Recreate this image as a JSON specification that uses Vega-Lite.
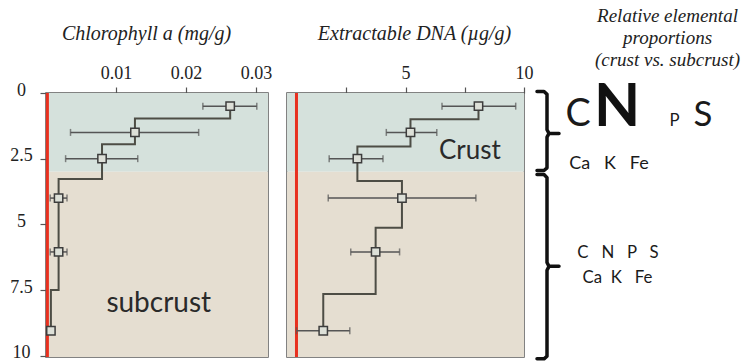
{
  "$schema": "https://vega.github.io/schema/vega-lite/v6.json",
  "background": "white",
  "padding": {"left": 5, "top": 6, "right": 3, "bottom": 1},
  "spacing": 0,
  "config": {
    "view": {"stroke": "#5a5a5a", "strokeWidth": 1.5},
    "axis": {"labelFont": "Liberation Serif", "labelFontSize": 18, "labelColor": "#222", "titleFont": "Liberation Serif", "titleFontStyle": "italic", "titleFontWeight": "normal", "titleFontSize": 20, "titleColor": "#222", "tickColor": "#555", "tickWidth": 1.2, "domain": false, "grid": false}
  },
  "datasets": {
    "zones": [{"zone": "crust", "top": 0, "bottom": 3.0}, {"zone": "subcrust", "top": 3.0, "bottom": 10.05}],
    "red": [{"panel": "chl", "x": 0.0002}, {"panel": "dna", "x": 0.4}],
    "chl": [
      {"depth": 0.5, "value": 0.0263, "lo": 0.0224, "hi": 0.0301},
      {"depth": 1.5, "value": 0.0127, "lo": 0.0035, "hi": 0.0218},
      {"depth": 2.5, "value": 0.008, "lo": 0.0028, "hi": 0.0131},
      {"depth": 4.0, "value": 0.0018, "lo": 0.0006, "hi": 0.003},
      {"depth": 6.05, "value": 0.0018, "lo": 0.0006, "hi": 0.003},
      {"depth": 9.05, "value": 0.0007, "lo": 0.0007, "hi": 0.0007}
    ],
    "chl_path": [
      {"i": 1, "value": 0.0263, "depth": 0.5}, {"i": 2, "value": 0.0263, "depth": 0.97},
      {"i": 3, "value": 0.0127, "depth": 0.97}, {"i": 4, "value": 0.0127, "depth": 1.95},
      {"i": 5, "value": 0.008, "depth": 1.95}, {"i": 6, "value": 0.008, "depth": 3.27},
      {"i": 7, "value": 0.0018, "depth": 3.27}, {"i": 8, "value": 0.0018, "depth": 7.5},
      {"i": 9, "value": 0.0007, "depth": 7.5}, {"i": 10, "value": 0.0007, "depth": 9.05}
    ],
    "dna": [
      {"depth": 0.5, "value": 8.08, "lo": 6.54, "hi": 9.65},
      {"depth": 1.5, "value": 5.21, "lo": 4.19, "hi": 6.32},
      {"depth": 2.5, "value": 2.97, "lo": 1.78, "hi": 4.05},
      {"depth": 4.0, "value": 4.85, "lo": 1.74, "hi": 7.97},
      {"depth": 6.05, "value": 3.74, "lo": 2.69, "hi": 4.75},
      {"depth": 9.05, "value": 1.53, "lo": 0.4, "hi": 2.65}
    ],
    "dna_path": [
      {"i": 1, "value": 8.08, "depth": 0.5}, {"i": 2, "value": 8.08, "depth": 1.0},
      {"i": 3, "value": 5.21, "depth": 1.0}, {"i": 4, "value": 5.21, "depth": 2.04},
      {"i": 5, "value": 2.97, "depth": 2.04}, {"i": 6, "value": 2.97, "depth": 3.35},
      {"i": 7, "value": 4.85, "depth": 3.35}, {"i": 8, "value": 4.85, "depth": 5.13},
      {"i": 9, "value": 3.74, "depth": 5.13}, {"i": 10, "value": 3.74, "depth": 7.65},
      {"i": 11, "value": 1.53, "depth": 7.65}, {"i": 12, "value": 1.53, "depth": 9.05}
    ],
    "zone_labels": [
      {"panel": "chl", "label": "subcrust", "x": 0.0161, "depth": 8.05},
      {"panel": "dna", "label": "Crust", "x": 7.72, "depth": 2.2}
    ],
    "braces": [
      {"brace": "crust", "i": 1, "bx": 3, "depth": -0.06}, {"brace": "crust", "i": 2, "bx": 10, "depth": -0.06},
      {"brace": "crust", "i": 3, "bx": 13, "depth": 0.05}, {"brace": "crust", "i": 4, "bx": 13, "depth": 1.4},
      {"brace": "crust", "i": 5, "bx": 15, "depth": 1.54}, {"brace": "crust", "i": 6, "bx": 25, "depth": 1.54},
      {"brace": "crust", "i": 7, "bx": 15, "depth": 1.54}, {"brace": "crust", "i": 8, "bx": 13, "depth": 1.68},
      {"brace": "crust", "i": 9, "bx": 13, "depth": 2.85}, {"brace": "crust", "i": 10, "bx": 10, "depth": 2.95},
      {"brace": "crust", "i": 11, "bx": 3, "depth": 2.95},
      {"brace": "subcrust", "i": 1, "bx": 3, "depth": 3.1}, {"brace": "subcrust", "i": 2, "bx": 10, "depth": 3.1},
      {"brace": "subcrust", "i": 3, "bx": 13, "depth": 3.22}, {"brace": "subcrust", "i": 4, "bx": 13, "depth": 6.45},
      {"brace": "subcrust", "i": 5, "bx": 15, "depth": 6.6}, {"brace": "subcrust", "i": 6, "bx": 25, "depth": 6.6},
      {"brace": "subcrust", "i": 7, "bx": 15, "depth": 6.6}, {"brace": "subcrust", "i": 8, "bx": 13, "depth": 6.75},
      {"brace": "subcrust", "i": 9, "bx": 13, "depth": 10.02}, {"brace": "subcrust", "i": 10, "bx": 10, "depth": 10.12},
      {"brace": "subcrust", "i": 11, "bx": 3, "depth": 10.12}
    ],
    "elements": [
      {"label": "C", "zone": "crust", "rel": 0.63, "pos": 44, "depth": 1.27},
      {"label": "N", "zone": "crust", "rel": 1.0, "pos": 83, "depth": 1.27},
      {"label": "P", "zone": "crust", "rel": 0.28, "pos": 140.5, "depth": 1.27},
      {"label": "S", "zone": "crust", "rel": 0.58, "pos": 169, "depth": 1.27},
      {"label": "Ca\u00a0\u00a0 K\u00a0\u00a0 Fe", "zone": "crust", "rel": 0.3, "pos": 75, "depth": 2.9},
      {"label": "C\u00a0\u00a0 N\u00a0\u00a0 P\u00a0\u00a0 S", "zone": "subcrust", "rel": 0.28, "pos": 84, "depth": 6.29},
      {"label": "Ca\u00a0 K\u00a0\u00a0 Fe", "zone": "subcrust", "rel": 0.28, "pos": 83.5, "depth": 7.24}
    ]
  },
  "hconcat": [
    {
      "width": 222,
      "height": 264,
      "layer": [
        {
          "data": {"name": "zones"},
          "mark": {"type": "rect"},
          "encoding": {
            "y": {"field": "top", "type": "quantitative", "scale": {"domain": [0, 10.05], "reverse": true, "nice": false, "zero": false}, "axis": {"values": [0, 2.5, 5, 7.5, 10], "format": ".1~f", "title": null, "tickSize": 6, "labelAlign": "center", "labelPadding": 19, "minExtent": 40, "labelOffset": -3}},
            "y2": {"field": "bottom"},
            "color": {"field": "zone", "type": "nominal", "scale": {"domain": ["crust", "subcrust"], "range": ["#d5e1dc", "#e5ded1"]}, "legend": null}
          }
        },
        {
          "data": {"name": "red"},
          "transform": [{"filter": "datum.panel === 'chl'"}],
          "mark": {"type": "rule", "color": "#e8301f", "strokeWidth": 3},
          "encoding": {
            "x": {"field": "x", "type": "quantitative", "scale": {"domain": [0, 0.0317], "nice": false, "zero": false}, "axis": {"orient": "top", "values": [0.01, 0.02, 0.03], "title": "Chlorophyll a (mg/g)", "tickSize": 6, "labelPadding": 5, "titlePadding": 21, "titleX": 100, "labelFlush": false}}
          }
        },
        {
          "data": {"name": "chl_path"},
          "mark": {"type": "line", "color": "#4d4d45", "strokeWidth": 2},
          "encoding": {
            "x": {"field": "value", "type": "quantitative", "scale": {"domain": [0, 0.0317], "nice": false, "zero": false}, "axis": {"orient": "top", "values": [0.01, 0.02, 0.03], "title": "Chlorophyll a (mg/g)", "tickSize": 6, "labelPadding": 5, "titlePadding": 21, "titleX": 100, "labelFlush": false}},
            "y": {"field": "depth", "type": "quantitative", "scale": {"domain": [0, 10.05], "reverse": true, "nice": false, "zero": false}, "axis": {"values": [0, 2.5, 5, 7.5, 10], "format": ".1~f", "title": null, "tickSize": 6, "labelAlign": "center", "labelPadding": 19, "minExtent": 40, "labelOffset": -3}},
            "order": {"field": "i", "type": "quantitative"}
          }
        },
        {
          "data": {"name": "chl"},
          "mark": {"type": "rule", "color": "#555", "strokeWidth": 1.5},
          "encoding": {
            "x": {"field": "lo", "type": "quantitative", "scale": {"domain": [0, 0.0317], "nice": false, "zero": false}, "axis": {"orient": "top", "values": [0.01, 0.02, 0.03], "title": "Chlorophyll a (mg/g)", "tickSize": 6, "labelPadding": 5, "titlePadding": 21, "titleX": 100, "labelFlush": false}},
            "x2": {"field": "hi"},
            "y": {"field": "depth", "type": "quantitative", "scale": {"domain": [0, 10.05], "reverse": true, "nice": false, "zero": false}, "axis": {"values": [0, 2.5, 5, 7.5, 10], "format": ".1~f", "title": null, "tickSize": 6, "labelAlign": "center", "labelPadding": 19, "minExtent": 40, "labelOffset": -3}}
          }
        },
        {
          "data": {"name": "chl"},
          "mark": {"type": "tick", "orient": "vertical", "size": 7, "thickness": 1.5, "color": "#555"},
          "encoding": {
            "x": {"field": "lo", "type": "quantitative", "scale": {"domain": [0, 0.0317], "nice": false, "zero": false}, "axis": {"orient": "top", "values": [0.01, 0.02, 0.03], "title": "Chlorophyll a (mg/g)", "tickSize": 6, "labelPadding": 5, "titlePadding": 21, "titleX": 100, "labelFlush": false}},
            "y": {"field": "depth", "type": "quantitative", "scale": {"domain": [0, 10.05], "reverse": true, "nice": false, "zero": false}, "axis": {"values": [0, 2.5, 5, 7.5, 10], "format": ".1~f", "title": null, "tickSize": 6, "labelAlign": "center", "labelPadding": 19, "minExtent": 40, "labelOffset": -3}}
          }
        },
        {
          "data": {"name": "chl"},
          "mark": {"type": "tick", "orient": "vertical", "size": 7, "thickness": 1.5, "color": "#555"},
          "encoding": {
            "x": {"field": "hi", "type": "quantitative", "scale": {"domain": [0, 0.0317], "nice": false, "zero": false}, "axis": {"orient": "top", "values": [0.01, 0.02, 0.03], "title": "Chlorophyll a (mg/g)", "tickSize": 6, "labelPadding": 5, "titlePadding": 21, "titleX": 100, "labelFlush": false}},
            "y": {"field": "depth", "type": "quantitative", "scale": {"domain": [0, 10.05], "reverse": true, "nice": false, "zero": false}, "axis": {"values": [0, 2.5, 5, 7.5, 10], "format": ".1~f", "title": null, "tickSize": 6, "labelAlign": "center", "labelPadding": 19, "minExtent": 40, "labelOffset": -3}}
          }
        },
        {
          "data": {"name": "chl"},
          "mark": {"type": "square", "size": 70, "filled": true, "fill": "#dde0d8", "stroke": "#3d3d3d", "strokeWidth": 1.5, "opacity": 1},
          "encoding": {
            "x": {"field": "value", "type": "quantitative", "scale": {"domain": [0, 0.0317], "nice": false, "zero": false}, "axis": {"orient": "top", "values": [0.01, 0.02, 0.03], "title": "Chlorophyll a (mg/g)", "tickSize": 6, "labelPadding": 5, "titlePadding": 21, "titleX": 100, "labelFlush": false}},
            "y": {"field": "depth", "type": "quantitative", "scale": {"domain": [0, 10.05], "reverse": true, "nice": false, "zero": false}, "axis": {"values": [0, 2.5, 5, 7.5, 10], "format": ".1~f", "title": null, "tickSize": 6, "labelAlign": "center", "labelPadding": 19, "minExtent": 40, "labelOffset": -3}}
          }
        },
        {
          "data": {"name": "zone_labels"},
          "transform": [{"filter": "datum.panel === 'chl'"}],
          "mark": {"type": "text", "font": "Lato", "fontSize": 28, "color": "#2a2a2a", "align": "center", "baseline": "middle"},
          "encoding": {
            "x": {"field": "x", "type": "quantitative", "scale": {"domain": [0, 0.0317], "nice": false, "zero": false}, "axis": {"orient": "top", "values": [0.01, 0.02, 0.03], "title": "Chlorophyll a (mg/g)", "tickSize": 6, "labelPadding": 5, "titlePadding": 21, "titleX": 100, "labelFlush": false}},
            "y": {"field": "depth", "type": "quantitative", "scale": {"domain": [0, 10.05], "reverse": true, "nice": false, "zero": false}, "axis": {"values": [0, 2.5, 5, 7.5, 10], "format": ".1~f", "title": null, "tickSize": 6, "labelAlign": "center", "labelPadding": 19, "minExtent": 40, "labelOffset": -3}},
            "text": {"field": "label"}
          }
        }
      ]
    },
    {
      "width": 237,
      "height": 264,
      "layer": [
        {
          "data": {"name": "zones"},
          "mark": {"type": "rect"},
          "encoding": {
            "y": {"field": "top", "type": "quantitative", "scale": {"domain": [0, 10.05], "reverse": true, "nice": false, "zero": false}, "axis": {"labels": false, "ticks": false, "domain": false, "title": null, "minExtent": 13}},
            "y2": {"field": "bottom"},
            "color": {"field": "zone", "type": "nominal", "scale": {"domain": ["crust", "subcrust"], "range": ["#d5e1dc", "#e5ded1"]}, "legend": null}
          }
        },
        {
          "data": {"name": "red"},
          "transform": [{"filter": "datum.panel === 'dna'"}],
          "mark": {"type": "rule", "color": "#e8301f", "strokeWidth": 3},
          "encoding": {
            "x": {"field": "x", "type": "quantitative", "scale": {"domain": [0, 10], "nice": false, "zero": false}, "axis": {"orient": "top", "values": [2.5, 5, 7.5, 10], "labelExpr": "datum.value % 5 === 0 ? datum.label : ''", "title": "Extractable DNA (µg/g)", "tickSize": 6, "labelPadding": 5, "titlePadding": 21, "titleX": 127, "labelFlush": false}}
          }
        },
        {
          "data": {"name": "dna_path"},
          "mark": {"type": "line", "color": "#4d4d45", "strokeWidth": 2},
          "encoding": {
            "x": {"field": "value", "type": "quantitative", "scale": {"domain": [0, 10], "nice": false, "zero": false}, "axis": {"orient": "top", "values": [2.5, 5, 7.5, 10], "labelExpr": "datum.value % 5 === 0 ? datum.label : ''", "title": "Extractable DNA (µg/g)", "tickSize": 6, "labelPadding": 5, "titlePadding": 21, "titleX": 127, "labelFlush": false}},
            "y": {"field": "depth", "type": "quantitative", "scale": {"domain": [0, 10.05], "reverse": true, "nice": false, "zero": false}, "axis": {"labels": false, "ticks": false, "domain": false, "title": null, "minExtent": 13}},
            "order": {"field": "i", "type": "quantitative"}
          }
        },
        {
          "data": {"name": "dna"},
          "mark": {"type": "rule", "color": "#555", "strokeWidth": 1.5},
          "encoding": {
            "x": {"field": "lo", "type": "quantitative", "scale": {"domain": [0, 10], "nice": false, "zero": false}, "axis": {"orient": "top", "values": [2.5, 5, 7.5, 10], "labelExpr": "datum.value % 5 === 0 ? datum.label : ''", "title": "Extractable DNA (µg/g)", "tickSize": 6, "labelPadding": 5, "titlePadding": 21, "titleX": 127, "labelFlush": false}},
            "x2": {"field": "hi"},
            "y": {"field": "depth", "type": "quantitative", "scale": {"domain": [0, 10.05], "reverse": true, "nice": false, "zero": false}, "axis": {"labels": false, "ticks": false, "domain": false, "title": null, "minExtent": 13}}
          }
        },
        {
          "data": {"name": "dna"},
          "mark": {"type": "tick", "orient": "vertical", "size": 7, "thickness": 1.5, "color": "#555"},
          "encoding": {
            "x": {"field": "lo", "type": "quantitative", "scale": {"domain": [0, 10], "nice": false, "zero": false}, "axis": {"orient": "top", "values": [2.5, 5, 7.5, 10], "labelExpr": "datum.value % 5 === 0 ? datum.label : ''", "title": "Extractable DNA (µg/g)", "tickSize": 6, "labelPadding": 5, "titlePadding": 21, "titleX": 127, "labelFlush": false}},
            "y": {"field": "depth", "type": "quantitative", "scale": {"domain": [0, 10.05], "reverse": true, "nice": false, "zero": false}, "axis": {"labels": false, "ticks": false, "domain": false, "title": null, "minExtent": 13}}
          }
        },
        {
          "data": {"name": "dna"},
          "mark": {"type": "tick", "orient": "vertical", "size": 7, "thickness": 1.5, "color": "#555"},
          "encoding": {
            "x": {"field": "hi", "type": "quantitative", "scale": {"domain": [0, 10], "nice": false, "zero": false}, "axis": {"orient": "top", "values": [2.5, 5, 7.5, 10], "labelExpr": "datum.value % 5 === 0 ? datum.label : ''", "title": "Extractable DNA (µg/g)", "tickSize": 6, "labelPadding": 5, "titlePadding": 21, "titleX": 127, "labelFlush": false}},
            "y": {"field": "depth", "type": "quantitative", "scale": {"domain": [0, 10.05], "reverse": true, "nice": false, "zero": false}, "axis": {"labels": false, "ticks": false, "domain": false, "title": null, "minExtent": 13}}
          }
        },
        {
          "data": {"name": "dna"},
          "mark": {"type": "square", "size": 70, "filled": true, "fill": "#dde0d8", "stroke": "#3d3d3d", "strokeWidth": 1.5, "opacity": 1},
          "encoding": {
            "x": {"field": "value", "type": "quantitative", "scale": {"domain": [0, 10], "nice": false, "zero": false}, "axis": {"orient": "top", "values": [2.5, 5, 7.5, 10], "labelExpr": "datum.value % 5 === 0 ? datum.label : ''", "title": "Extractable DNA (µg/g)", "tickSize": 6, "labelPadding": 5, "titlePadding": 21, "titleX": 127, "labelFlush": false}},
            "y": {"field": "depth", "type": "quantitative", "scale": {"domain": [0, 10.05], "reverse": true, "nice": false, "zero": false}, "axis": {"labels": false, "ticks": false, "domain": false, "title": null, "minExtent": 13}}
          }
        },
        {
          "data": {"name": "zone_labels"},
          "transform": [{"filter": "datum.panel === 'dna'"}],
          "mark": {"type": "text", "font": "Lato", "fontSize": 26, "color": "#2a2a2a", "align": "center", "baseline": "middle"},
          "encoding": {
            "x": {"field": "x", "type": "quantitative", "scale": {"domain": [0, 10], "nice": false, "zero": false}, "axis": {"orient": "top", "values": [2.5, 5, 7.5, 10], "labelExpr": "datum.value % 5 === 0 ? datum.label : ''", "title": "Extractable DNA (µg/g)", "tickSize": 6, "labelPadding": 5, "titlePadding": 21, "titleX": 127, "labelFlush": false}},
            "y": {"field": "depth", "type": "quantitative", "scale": {"domain": [0, 10.05], "reverse": true, "nice": false, "zero": false}, "axis": {"labels": false, "ticks": false, "domain": false, "title": null, "minExtent": 13}},
            "text": {"field": "label"}
          }
        }
      ]
    },
    {
      "width": 204,
      "height": 264,
      "view": {"stroke": null},
      "layer": [
        {
          "data": {"name": "braces"},
          "mark": {"type": "line", "color": "#111", "strokeWidth": 3.5, "strokeJoin": "round", "strokeCap": "round", "clip": false},
          "encoding": {
            "x": {"field": "bx", "type": "quantitative", "scale": {"domain": [0, 204], "nice": false, "zero": false}, "axis": {"orient": "top", "labels": false, "ticks": false, "domain": false, "title": ["Relative elemental", "proportions", "(crust vs. subcrust)"], "titleFontSize": 19, "titlePadding": 24, "titleX": 133, "titleAlign": "center", "titleLineHeight": 22}},
            "y": {"field": "depth", "type": "quantitative", "scale": {"domain": [0, 10.05], "reverse": true, "nice": false, "zero": false}, "axis": null},
            "detail": {"field": "brace"},
            "order": {"field": "i", "type": "quantitative"}
          }
        },
        {
          "data": {"name": "elements"},
          "transform": [{"filter": "datum.label !== 'N'"}],
          "mark": {"type": "text", "font": "Lato", "color": "#1a1a1a", "align": "center", "baseline": "alphabetic"},
          "encoding": {
            "x": {"field": "pos", "type": "quantitative", "scale": {"domain": [0, 204], "nice": false, "zero": false}, "axis": {"orient": "top", "labels": false, "ticks": false, "domain": false, "title": ["Relative elemental", "proportions", "(crust vs. subcrust)"], "titleFontSize": 19, "titlePadding": 24, "titleX": 133, "titleAlign": "center", "titleLineHeight": 22}},
            "y": {"field": "depth", "type": "quantitative", "scale": {"domain": [0, 10.05], "reverse": true, "nice": false, "zero": false}, "axis": null},
            "size": {"field": "rel", "type": "quantitative", "scale": {"type": "linear", "domain": [0, 1], "range": [0, 60]}, "legend": null},
            "text": {"field": "label"}
          }
        },
        {
          "data": {"name": "elements"},
          "transform": [{"filter": "datum.label === 'N'"}],
          "mark": {"type": "text", "font": "Lato", "fontWeight": "bold", "color": "#111", "align": "center", "baseline": "alphabetic"},
          "encoding": {
            "x": {"field": "pos", "type": "quantitative", "scale": {"domain": [0, 204], "nice": false, "zero": false}, "axis": {"orient": "top", "labels": false, "ticks": false, "domain": false, "title": ["Relative elemental", "proportions", "(crust vs. subcrust)"], "titleFontSize": 19, "titlePadding": 24, "titleX": 133, "titleAlign": "center", "titleLineHeight": 22}},
            "y": {"field": "depth", "type": "quantitative", "scale": {"domain": [0, 10.05], "reverse": true, "nice": false, "zero": false}, "axis": null},
            "size": {"field": "rel", "type": "quantitative", "scale": {"type": "linear", "domain": [0, 1], "range": [0, 60]}, "legend": null},
            "text": {"field": "label"}
          }
        }
      ]
    }
  ],
  "resolve": {"scale": {"x": "independent", "y": "independent", "color": "independent", "size": "independent"}}
}
